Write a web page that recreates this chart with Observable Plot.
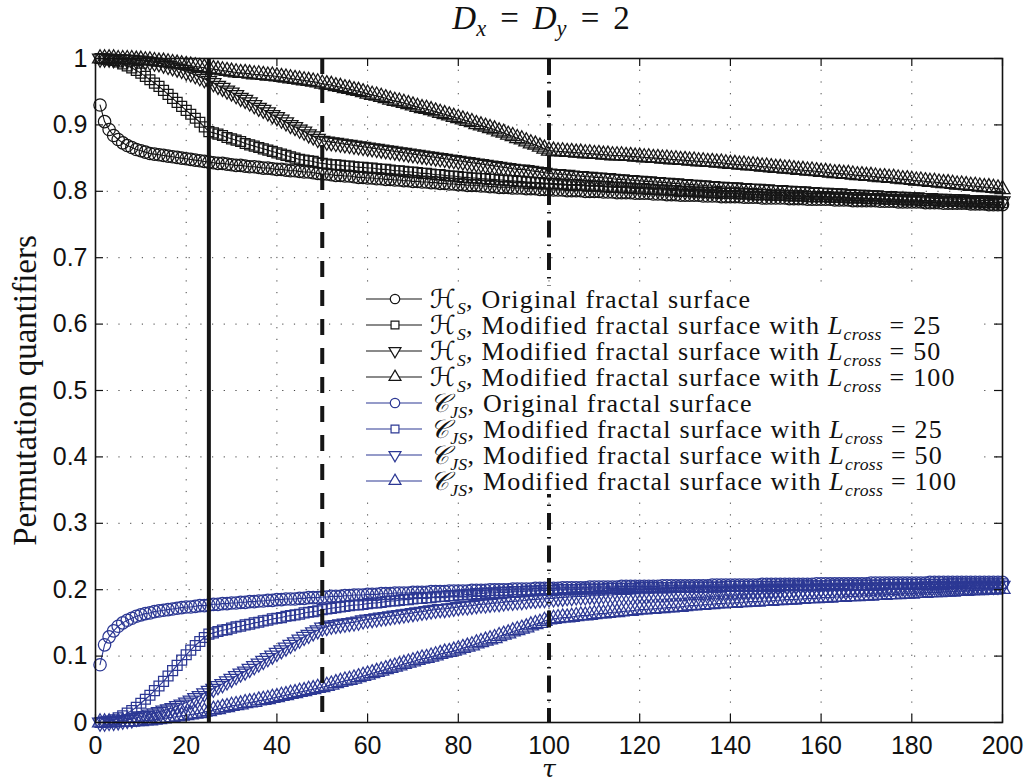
<!DOCTYPE html>
<html>
<head>
<meta charset="utf-8">
<script src="https://cdn.jsdelivr.net/npm/d3@7"></script>
<script src="https://cdn.jsdelivr.net/npm/@observablehq/plot@0.6"></script>
<style>
  html, body { margin: 0; padding: 0; background: #fff; }
  #wrap { position: relative; width: 1028px; height: 781px; overflow: hidden; }
  #title { position: absolute; left: 0; width: 1082px; top: 0px; text-align: center;
           font-family: "Liberation Serif", "DejaVu Serif", serif; font-size: 33px; color: #111; }
  #title .eq { margin: 0 0.42em; }
  #legend { position: absolute; left: 362px; top: 286px; width: 622px; height: 208px; background: #fff;
            font-family: "Liberation Serif", "DejaVu Serif", serif; font-size: 26px; letter-spacing: 1.2px; color: #111; }
  .row { height: 26px; line-height: 26px; display: flex; align-items: center; white-space: nowrap; }
  .row svg { flex: none; }
  sub { font-size: 0.68em; vertical-align: -0.32em; line-height: 0; letter-spacing: 0.3px; }
  .eq { margin: 0 0.3em; }
  .cal { font-family: "DejaVu Serif", "DejaVu Sans", serif; font-style: italic; }
  #warn { position: absolute; left: 10px; top: 10px; color: red; font: 14px sans-serif; }
</style>
</head>
<body>
<div id="wrap"></div>
<script>
// ---------- data ----------
const tau = d3.range(1, 201); // τ = 1 … 200
const xTicks = [0, 20, 40, 60, 80, 100, 120, 140, 160, 180, 200];
const yTicks = [0, 0.1, 0.2, 0.3, 0.4, 0.5, 0.6, 0.7, 0.8, 0.9, 1];
const crossovers = [25, 50, 100];

const hsOriginal = [
.930,.905,.893,.884,.878,.873,.869,.866,.863,.861,
.859,.857,.856,.855,.854,.853,.852,.851,.850,.849,
.848,.847,.846,.845,.844,.843,.842,.842,.841,.840,
.839,.839,.838,.837,.837,.836,.835,.835,.834,.833,
.833,.832,.831,.831,.830,.829,.829,.828,.827,.826,
.826,.825,.824,.824,.823,.823,.822,.821,.821,.820,
.820,.819,.819,.818,.818,.817,.817,.816,.816,.815,
.815,.814,.814,.813,.813,.812,.812,.811,.811,.810,
.810,.809,.809,.809,.808,.808,.807,.807,.806,.806,
.806,.805,.805,.805,.804,.804,.804,.803,.803,.803,
.802,.802,.802,.801,.801,.801,.801,.800,.800,.800,
.800,.799,.799,.799,.798,.798,.798,.798,.797,.797,
.797,.797,.796,.796,.796,.795,.795,.795,.794,.794,
.794,.794,.794,.793,.793,.793,.793,.792,.792,.792,
.792,.792,.791,.791,.791,.791,.790,.790,.790,.790,
.790,.790,.789,.789,.789,.789,.788,.788,.788,.788,
.788,.788,.787,.787,.787,.787,.786,.786,.786,.786,
.786,.786,.785,.785,.785,.785,.784,.784,.784,.784,
.784,.784,.783,.783,.783,.783,.782,.782,.782,.782,
.782,.782,.781,.781,.781,.781,.780,.780,.780,.780];

const hsL25 = [
1.000,.999,.998,.997,.995,.992,.989,.986,.982,.978,
.973,.968,.963,.958,.952,.946,.940,.934,.928,.922,
.916,.910,.904,.897,.890,.888,.886,.884,.881,.879,
.877,.875,.872,.870,.868,.866,.864,.862,.860,.858,
.856,.854,.852,.850,.848,.847,.846,.845,.843,.842,
.841,.840,.840,.839,.838,.838,.837,.836,.836,.835,
.835,.834,.833,.833,.832,.831,.831,.830,.829,.829,
.828,.827,.827,.826,.825,.825,.824,.823,.823,.822,
.821,.821,.820,.820,.819,.819,.818,.818,.817,.817,
.816,.816,.815,.815,.814,.814,.813,.813,.812,.812,
.812,.811,.811,.810,.810,.810,.809,.809,.808,.808,
.808,.807,.807,.806,.806,.806,.805,.805,.804,.804,
.804,.803,.803,.802,.802,.802,.801,.801,.800,.800,
.800,.799,.799,.799,.798,.798,.798,.797,.797,.797,
.797,.796,.796,.796,.795,.795,.795,.795,.794,.794,
.794,.794,.793,.793,.793,.793,.792,.792,.792,.792,
.792,.791,.791,.791,.791,.790,.790,.790,.790,.789,
.789,.789,.789,.788,.788,.788,.788,.787,.787,.787,
.787,.786,.786,.786,.786,.785,.785,.785,.785,.785,
.784,.784,.784,.784,.784,.783,.783,.783,.783,.783];

const hsL50 = [
1.000,1.000,1.000,.999,.999,.999,.998,.998,.997,.997,
.996,.995,.994,.993,.991,.989,.987,.985,.983,.980,
.978,.975,.972,.969,.966,.963,.959,.956,.952,.949,
.945,.941,.938,.934,.930,.926,.923,.919,.915,.912,
.908,.904,.900,.897,.893,.890,.886,.883,.879,.876,
.875,.874,.873,.872,.871,.870,.869,.868,.867,.866,
.865,.864,.863,.862,.861,.860,.859,.858,.857,.856,
.855,.854,.853,.852,.851,.850,.849,.848,.847,.846,
.845,.844,.843,.842,.841,.840,.839,.838,.837,.836,
.835,.834,.833,.833,.832,.831,.830,.829,.828,.827,
.826,.826,.825,.825,.824,.823,.823,.822,.822,.821,
.821,.820,.820,.819,.818,.818,.817,.817,.816,.816,
.815,.815,.814,.814,.813,.813,.812,.812,.811,.811,
.810,.810,.809,.809,.808,.808,.807,.807,.806,.806,
.806,.805,.805,.804,.804,.804,.803,.803,.802,.802,
.802,.801,.801,.800,.800,.800,.799,.799,.798,.798,
.798,.797,.797,.797,.796,.796,.795,.795,.795,.794,
.794,.794,.793,.793,.793,.792,.792,.792,.791,.791,
.791,.790,.790,.790,.789,.789,.789,.788,.788,.788,
.788,.787,.787,.787,.786,.786,.786,.786,.785,.785];

const hsL100 = [
1.000,1.000,1.000,1.000,.999,.999,.999,.999,.998,.998,
.997,.997,.996,.995,.995,.994,.993,.992,.991,.990,
.989,.988,.987,.986,.985,.984,.983,.982,.981,.980,
.979,.978,.978,.977,.976,.976,.975,.974,.974,.973,
.972,.971,.970,.969,.968,.967,.966,.965,.964,.962,
.961,.960,.958,.957,.955,.954,.952,.951,.949,.947,
.945,.944,.942,.940,.938,.936,.935,.933,.931,.929,
.927,.925,.924,.922,.920,.918,.916,.914,.912,.910,
.908,.906,.904,.901,.899,.897,.895,.893,.890,.888,
.885,.883,.880,.878,.875,.872,.870,.867,.864,.861,
.861,.860,.860,.859,.859,.858,.858,.857,.857,.856,
.856,.855,.855,.854,.854,.854,.853,.853,.852,.852,
.851,.851,.850,.850,.849,.849,.848,.848,.847,.847,
.846,.846,.845,.845,.844,.844,.843,.843,.842,.841,
.841,.840,.840,.839,.839,.838,.837,.837,.836,.835,
.835,.834,.834,.833,.832,.832,.831,.831,.830,.829,
.829,.828,.827,.827,.826,.826,.825,.824,.824,.823,
.823,.822,.821,.821,.820,.820,.819,.818,.818,.817,
.816,.816,.815,.814,.814,.813,.812,.812,.811,.810,
.810,.809,.808,.808,.807,.806,.806,.805,.804,.803];

const cjsOriginal = [
.087,.117,.129,.138,.145,.150,.154,.157,.160,.162,
.164,.165,.167,.168,.169,.170,.171,.172,.173,.174,
.174,.175,.176,.176,.177,.178,.178,.179,.179,.180,
.180,.181,.181,.182,.182,.183,.183,.184,.184,.185,
.185,.186,.186,.186,.187,.187,.188,.188,.188,.189,
.189,.190,.190,.190,.191,.191,.192,.192,.192,.193,
.193,.193,.194,.194,.194,.195,.195,.195,.195,.196,
.196,.196,.196,.197,.197,.197,.197,.198,.198,.198,
.198,.198,.199,.199,.199,.199,.200,.200,.200,.200,
.200,.201,.201,.201,.201,.201,.202,.202,.202,.202,
.202,.202,.203,.203,.203,.203,.203,.203,.204,.204,
.204,.204,.204,.204,.204,.205,.205,.205,.205,.205,
.205,.205,.205,.205,.206,.206,.206,.206,.206,.206,
.206,.206,.206,.206,.206,.207,.207,.207,.207,.207,
.207,.207,.207,.207,.207,.207,.208,.208,.208,.208,
.208,.208,.208,.208,.208,.208,.208,.208,.209,.209,
.209,.209,.209,.209,.209,.209,.209,.209,.209,.209,
.210,.210,.210,.210,.210,.210,.210,.210,.210,.210,
.210,.210,.210,.211,.211,.211,.211,.211,.211,.211,
.211,.211,.211,.211,.211,.211,.211,.211,.211,.211];

const cjsL25 = [
.000,.001,.002,.004,.007,.010,.014,.018,.023,.029,
.035,.041,.048,.055,.062,.070,.078,.086,.094,.102,
.109,.116,.122,.128,.133,.135,.137,.139,.140,.142,
.144,.145,.147,.148,.150,.151,.153,.154,.156,.157,
.158,.160,.161,.162,.163,.165,.166,.167,.168,.170,
.171,.172,.173,.174,.175,.176,.177,.177,.178,.179,
.180,.180,.181,.182,.183,.183,.184,.185,.185,.186,
.187,.187,.188,.188,.189,.190,.190,.191,.191,.192,
.192,.193,.193,.194,.194,.195,.195,.195,.196,.196,
.196,.197,.197,.197,.198,.198,.198,.199,.199,.199,
.199,.200,.200,.200,.200,.200,.201,.201,.201,.201,
.201,.201,.202,.202,.202,.202,.202,.202,.202,.203,
.203,.203,.203,.203,.203,.203,.203,.204,.204,.204,
.204,.204,.204,.204,.204,.204,.204,.204,.205,.205,
.205,.205,.205,.205,.205,.205,.205,.205,.205,.205,
.205,.206,.206,.206,.206,.206,.206,.206,.206,.206,
.206,.207,.207,.207,.207,.207,.207,.207,.207,.207,
.207,.207,.207,.208,.208,.208,.208,.208,.208,.208,
.208,.208,.208,.208,.208,.208,.208,.209,.209,.209,
.209,.209,.209,.209,.209,.209,.209,.209,.209,.209];

const cjsL50 = [
.000,.000,.001,.001,.002,.003,.004,.005,.007,.009,
.010,.012,.014,.016,.018,.020,.022,.025,.027,.030,
.033,.037,.040,.044,.048,.051,.055,.058,.062,.066,
.070,.074,.077,.081,.085,.089,.093,.097,.101,.105,
.109,.113,.117,.121,.125,.129,.132,.136,.139,.143,
.144,.146,.147,.148,.149,.150,.151,.152,.154,.155,
.156,.157,.158,.159,.160,.161,.162,.163,.164,.165,
.166,.167,.168,.169,.170,.171,.171,.172,.173,.174,
.175,.175,.176,.177,.178,.178,.179,.180,.180,.181,
.182,.182,.183,.183,.184,.185,.185,.186,.186,.187,
.187,.188,.188,.189,.189,.190,.190,.190,.191,.191,
.191,.192,.192,.192,.193,.193,.193,.193,.194,.194,
.194,.194,.195,.195,.195,.195,.196,.196,.196,.196,
.197,.197,.197,.197,.197,.198,.198,.198,.198,.198,
.198,.199,.199,.199,.199,.199,.199,.200,.200,.200,
.200,.200,.200,.201,.201,.201,.201,.201,.201,.202,
.202,.202,.202,.202,.202,.202,.203,.203,.203,.203,
.203,.203,.203,.203,.204,.204,.204,.204,.204,.204,
.204,.204,.205,.205,.205,.205,.205,.205,.205,.205,
.205,.205,.206,.206,.206,.206,.206,.206,.206,.206];

const cjsL100 = [
.000,.000,.000,.000,.001,.001,.001,.001,.002,.002,
.003,.003,.004,.005,.006,.007,.008,.009,.010,.011,
.012,.013,.014,.016,.017,.019,.020,.022,.023,.025,
.026,.027,.029,.030,.031,.033,.034,.035,.037,.038,
.040,.041,.043,.044,.046,.047,.049,.050,.052,.053,
.055,.057,.059,.061,.063,.064,.066,.068,.070,.072,
.074,.076,.078,.080,.082,.084,.086,.088,.090,.092,
.094,.096,.097,.099,.101,.103,.105,.106,.108,.110,
.112,.114,.116,.119,.121,.123,.125,.127,.130,.132,
.134,.137,.139,.141,.143,.146,.148,.150,.153,.155,
.156,.157,.158,.158,.159,.160,.161,.161,.162,.163,
.164,.164,.165,.166,.166,.167,.168,.168,.169,.170,
.170,.171,.171,.172,.172,.173,.173,.174,.174,.175,
.176,.176,.177,.177,.178,.178,.179,.179,.180,.180,
.180,.181,.181,.182,.182,.182,.183,.183,.183,.184,
.184,.185,.185,.185,.186,.186,.187,.187,.187,.188,
.188,.188,.189,.189,.189,.190,.190,.190,.191,.191,
.191,.192,.192,.192,.193,.193,.193,.194,.194,.194,
.195,.195,.195,.196,.196,.196,.197,.197,.197,.198,
.198,.198,.199,.199,.199,.200,.200,.200,.201,.201];

// ---------- styling ----------
const BLACK = "#161616";
const BLUE = "#2c3894";
const series = [
  {values: hsOriginal, color: BLACK, symbol: "circle",   rotate: 0,   r: 6.2, q: "H", text: "Original fractal surface"},
  {values: hsL25,      color: BLACK, symbol: "square",   rotate: 0,   r: 5.6, q: "H", L: 25},
  {values: hsL50,      color: BLACK, symbol: "triangle", rotate: 180, r: 5.6, q: "H", L: 50},
  {values: hsL100,     color: BLACK, symbol: "triangle", rotate: 0,   r: 5.6, q: "H", L: 100},
  {values: cjsOriginal,color: BLUE,  symbol: "circle",   rotate: 0,   r: 6.2, q: "C", text: "Original fractal surface"},
  {values: cjsL25,     color: BLUE,  symbol: "square",   rotate: 0,   r: 5.6, q: "C", L: 25},
  {values: cjsL50,     color: BLUE,  symbol: "triangle", rotate: 180, r: 5.6, q: "C", L: 50},
  {values: cjsL100,    color: BLUE,  symbol: "triangle", rotate: 0,   r: 5.6, q: "C", L: 100}
];

const W = 1028, H = 781, mL = 95, mR = 26, mT = 58, mB = 59;
const fw = W - mL - mR, fh = H - mT - mB;

const bad = series.filter(s => s.values.length !== tau.length);

const curveMarks = series.flatMap(s => {
  const rows = s.values.map((v, i) => ({tau: tau[i], v}));
  return [
    Plot.line(rows, {x: "tau", y: "v", stroke: s.color, strokeWidth: 1.1}),
    Plot.dot(rows, {x: "tau", y: "v", symbol: s.symbol, rotate: s.rotate, r: s.r,
                    stroke: s.color, fill: "none", strokeWidth: 1.25})
  ];
});

const gridStyle = {stroke: "#222", strokeWidth: 1, strokeDasharray: "1.2,10.5", strokeOpacity: 0.85};
const fmt = d => String(+d.toFixed(1));

const chart = Plot.plot({
  width: W, height: H,
  marginLeft: mL, marginRight: mR, marginTop: mT, marginBottom: mB,
  style: {fontFamily: "'Liberation Sans', Arial, sans-serif", fontSize: "25px", background: "white", color: "#111"},
  x: {domain: [0, 200]},
  y: {domain: [0, 1]},
  marks: [
    Plot.ruleX(xTicks.slice(1, -1), {x: d => d, ...gridStyle}),
    Plot.ruleY(yTicks.slice(1, -1), {y: d => d, ...gridStyle}),
    ...curveMarks,
    Plot.ruleX([crossovers[0]], {x: d => d, stroke: "#151515", strokeWidth: 4}),
    Plot.ruleX([crossovers[1]], {x: d => d, stroke: "#151515", strokeWidth: 4, strokeDasharray: "16,13"}),
    Plot.ruleX([crossovers[2]], {x: d => d, stroke: "#151515", strokeWidth: 4, strokeDasharray: "17,7,1.5,7"}),
    // inward ticks on all four sides
    Plot.ruleX(xTicks, {x: d => d, stroke: "#111", strokeWidth: 1.2, insetTop: fh - 8}),
    Plot.ruleX(xTicks, {x: d => d, stroke: "#111", strokeWidth: 1.2, insetBottom: fh - 8}),
    Plot.ruleY(yTicks, {y: d => d, stroke: "#111", strokeWidth: 1.2, insetRight: fw - 8}),
    Plot.ruleY(yTicks, {y: d => d, stroke: "#111", strokeWidth: 1.2, insetLeft: fw - 8}),
    Plot.frame({stroke: "#111", strokeWidth: 1.6}),
    Plot.axisX({ticks: xTicks, tickSize: 0, tickPadding: 14, tickFormat: d => String(d), label: null, fontSize: 25}),
    Plot.axisY({ticks: yTicks, tickSize: 0, tickPadding: 8, tickFormat: fmt, label: null, fontSize: 25}),
    Plot.text(["Permutation quantifiers"], {frameAnchor: "left", textAnchor: "middle", dx: -70, rotate: -90,
      fontFamily: "'Liberation Serif', serif", fontSize: 33, fill: "#111"}),
    Plot.text(["τ"], {frameAnchor: "bottom", lineAnchor: "middle", dy: 46, fontFamily: "'DejaVu Serif', serif",
      fontStyle: "italic", fontSize: 25, fill: "#111"})
  ]
});

const wrap = document.getElementById("wrap");
wrap.appendChild(chart);

// title
const title = document.createElement("div");
title.id = "title";
title.innerHTML = '<i>D</i><sub><i>x</i></sub><span class="eq">=</span><i>D</i><sub><i>y</i></sub><span class="eq">=</span>2';
wrap.appendChild(title);

// legend
const legend = document.createElement("div");
legend.id = "legend";
const qHTML = {H: '<span class="cal">ℋ</span><sub><i>S</i></sub>', C: '<span class="cal">𝒞</span><sub><i>JS</i></sub>'};
for (const s of series) {
  const row = document.createElement("div");
  row.className = "row";
  const sym = {circle: d3.symbolCircle, square: d3.symbolSquare, triangle: d3.symbolTriangle}[s.symbol];
  const size = s.symbol === "circle" ? 70 : 62;
  const path = d3.symbol(sym, size)();
  row.innerHTML =
    `<svg width="68" height="26"><line x1="4" x2="60" y1="13" y2="13" stroke="${s.color}" stroke-width="1.2"/>` +
    `<path d="${path}" transform="translate(33,13) rotate(${s.rotate})" fill="#fff" stroke="${s.color}" stroke-width="1.2"/></svg>` +
    `<span>${qHTML[s.q]}, ${s.text ? s.text : `Modified fractal surface with <i>L</i><sub><i>cross</i></sub><span class="eq">=</span>${s.L}`}</span>`;
  legend.appendChild(row);
}
wrap.appendChild(legend);

if (bad.length) {
  const w = document.createElement("div");
  w.id = "warn";
  w.textContent = "length mismatch: " + bad.map(s => s.values.length).join(",");
  wrap.appendChild(w);
}
</script>
</body>
</html>
